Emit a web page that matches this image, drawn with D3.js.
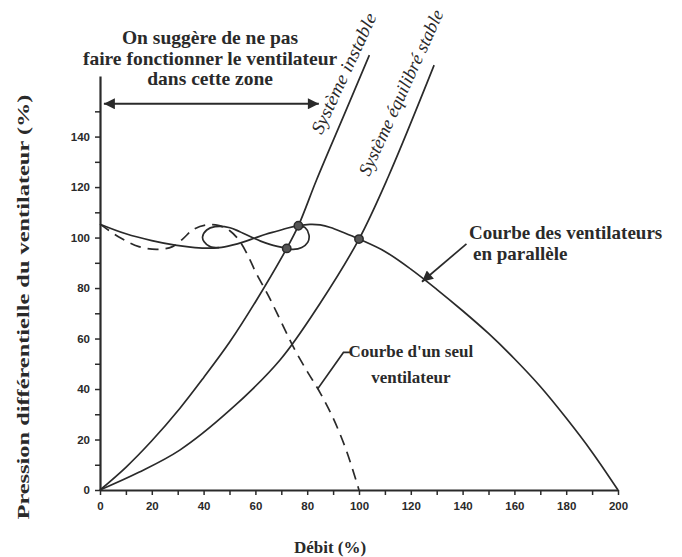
<!DOCTYPE html>
<html>
<head>
<meta charset="utf-8">
<script src="https://cdn.jsdelivr.net/npm/d3@7"></script>
<style>
  body { margin: 0; background: #fff; }
  svg { display: block; }
  .serif { font-family: "Liberation Serif", "Times New Roman", serif; fill: #2a2a2a; }
  .tick text { font-family: "Liberation Sans", Arial, sans-serif; font-weight: bold; font-size: 11.5px; fill: #2a2a2a; }
</style>
</head>
<body>
<div id="chart"></div>
<script>
// axis tick labels
const xTickLabels = [0, 20, 40, 60, 80, 100, 120, 140, 160, 180, 200];
const yTickLabels = [0, 20, 40, 60, 80, 100, 120, 140];

// single fan curve (dashed), debit % / pression %
const singleQ = [0, 8, 15, 22, 28, 32, 36, 41, 46, 50, 54, 58, 60, 65, 70, 75, 80, 85, 90, 95, 100];
const singleP = [105.3, 99.8, 96.4, 95.3, 96.4, 99.5, 103.2, 105, 104.7, 102.8, 98.5, 91, 86.5, 77, 66.5, 56, 47, 38.5, 28.5, 16, 0];

// fans in parallel, main branch
const parallelQ = [0, 10, 20, 29, 35, 40.5, 46, 51, 55.5, 59.5, 64, 68.2, 72.5, 76.6, 81, 85, 89, 94, 100, 110, 120, 130, 140, 150, 160, 170, 180, 190, 200];
const parallelP = [105.3, 101.5, 98.8, 97, 96.2, 95.8, 96, 97, 98.3, 99.7, 101.3, 102.5, 103.8, 104.7, 105.2, 105, 104, 102, 99.4, 94.5, 87.5, 79.5, 71, 62, 52, 41, 28.5, 15, 0];

// fans in parallel, loop branch (figure of eight in the unstable zone)
const loopQ = [76.6, 79.2, 80.7, 80.2, 77.9, 74.6, 72.1, 68.5, 65.6, 62, 59.5, 54, 50.2, 44.4, 41.2, 39.6, 40.2, 42.5, 46];
const loopP = [104.7, 103.9, 101, 98.1, 96.1, 95.3, 95.7, 96.5, 97.3, 98.6, 99.7, 102.3, 103.9, 104.3, 103, 100.3, 98.3, 96.4, 96];

// system curves
const unstableQ = [0, 10, 20, 30.8, 40, 50, 60, 72.1, 76.6, 83.6, 94, 104];
const unstableP = [0, 9, 19.5, 32.3, 44.5, 58.5, 74.5, 95.7, 104.7, 122.8, 148, 172.3];
const stableQ = [0, 15, 30.8, 50, 69.5, 85, 100, 111.3, 129];
const stableP = [0, 7, 15.8, 31.5, 51.5, 74, 99.4, 124.1, 168.3];

// operating points
const pointQ = [76.6, 72.1, 100];
const pointP = [104.7, 95.7, 99.4];

const width = 682, height = 557;

const x = d3.scaleLinear().domain([0, 200]).range([100, 618]);
const y = d3.scaleLinear().domain([0, 164]).range([490, 76]);

const svg = d3.select("#chart").append("svg")
    .attr("width", width)
    .attr("height", height)
    .attr("viewBox", [0, 0, width, height]);

const ink = "#2a2a2a";

// arrow heads
const defs = svg.append("defs");
defs.append("marker")
    .attr("id", "head")
    .attr("viewBox", "0 0 10 10")
    .attr("refX", 10).attr("refY", 5)
    .attr("markerWidth", 19).attr("markerHeight", 11)
    .attr("markerUnits", "userSpaceOnUse")
    .attr("orient", "auto-start-reverse")
  .append("path")
    .attr("d", "M0,0L10,5L0,10Z")
    .attr("fill", ink);

// axes
const xAxis = d3.axisBottom(x)
    .tickValues(d3.range(0, 201, 10))
    .tickSize(5).tickSizeOuter(0).tickPadding(7)
    .tickFormat(d => xTickLabels.includes(d) ? d : "");
const yAxis = d3.axisLeft(y)
    .tickValues(d3.range(0, 151, 10))
    .tickSize(5).tickSizeOuter(0).tickPadding(5)
    .tickFormat(d => yTickLabels.includes(d) ? d : "");

const gx = svg.append("g").attr("transform", `translate(0,${y(0)})`).call(xAxis);
const gy = svg.append("g").attr("transform", `translate(${x(0)},0)`).call(yAxis);
[gx, gy].forEach(g => {
  g.select(".domain").attr("stroke", ink).attr("stroke-width", 2.2);
  g.selectAll(".tick line").attr("stroke", ink).attr("stroke-width", 1.5);
});

const zip = (qs, ps) => qs.map((q, i) => [q, ps[i]]);
const line = d3.line()
    .x(d => x(d[0]))
    .y(d => y(d[1]))
    .curve(d3.curveCatmullRom.alpha(0.5));

const curves = [
  { pts: zip(unstableQ, unstableP), dash: null },
  { pts: zip(stableQ, stableP), dash: null },
  { pts: zip(parallelQ, parallelP), dash: null },
  { pts: zip(loopQ, loopP), dash: null },
  { pts: zip(singleQ, singleP), dash: "11,7" }
];

svg.append("g").selectAll("path")
  .data(curves)
  .join("path")
    .attr("d", d => line(d.pts))
    .attr("fill", "none")
    .attr("stroke", ink)
    .attr("stroke-width", 1.7)
    .attr("stroke-dasharray", d => d.dash);

// operating points
svg.append("g").selectAll("circle")
  .data(zip(pointQ, pointP))
  .join("circle")
    .attr("cx", d => x(d[0]))
    .attr("cy", d => y(d[1]))
    .attr("r", 4.2)
    .attr("fill", "#555")
    .attr("stroke", ink)
    .attr("stroke-width", 1.5);

// zone arrow
svg.append("line")
    .attr("x1", x(1.5)).attr("x2", x(84.5))
    .attr("y1", y(153)).attr("y2", y(153))
    .attr("stroke", ink).attr("stroke-width", 2)
    .attr("marker-start", "url(#head)")
    .attr("marker-end", "url(#head)");

// zone text
const zone = svg.append("text").attr("class", "serif")
    .attr("text-anchor", "middle")
    .attr("font-weight", "bold")
    .attr("font-size", 19.5);
["On suggère de ne pas", "faire fonctionner le ventilateur", "dans cette zone"].forEach((t, i) => {
  zone.append("tspan").attr("x", x(42.5)).attr("y", y(176.5) + i * 20.5).text(t);
});

// system labels, rotated along their lines
function slantLabel(text, q, p, angle, len) {
  svg.append("text").attr("class", "serif")
      .attr("font-style", "italic")
      .attr("font-size", 18.5)
      .attr("textLength", len)
      .attr("lengthAdjust", "spacingAndGlyphs")
      .attr("transform", `translate(${x(q)},${y(p)}) rotate(${angle})`)
      .text(text);
}
slantLabel("Système instable", 85.6, 140.5, -65, 131);
slantLabel("Système équilibré stable", 104, 124, -65.5, 180);

// parallel curve label
const par = svg.append("text").attr("class", "serif")
    .attr("font-weight", "bold")
    .attr("font-size", 19);
par.append("tspan").attr("x", x(142.5)).attr("y", y(99.5)).text("Courbe des ventilateurs");
par.append("tspan").attr("x", x(144)).attr("y", y(91)).text("en parallèle");

svg.append("line")
    .attr("x1", x(141.5)).attr("y1", y(97.5))
    .attr("x2", x(124.3)).attr("y2", y(82.5))
    .attr("stroke", ink).attr("stroke-width", 1.7)
    .attr("marker-end", "url(#head)");

// single fan label
const sgl = svg.append("text").attr("class", "serif")
    .attr("font-weight", "bold")
    .attr("font-size", 17)
    .attr("text-anchor", "middle");
sgl.append("tspan").attr("x", x(120)).attr("y", y(52.5)).text("Courbe d'un seul");
sgl.append("tspan").attr("x", x(120)).attr("y", y(42.5)).text("ventilateur");

svg.append("path")
    .attr("d", d3.line()([[x(84), y(40)], [x(94), y(54.5)], [x(96.5), y(54.5)]]))
    .attr("fill", "none")
    .attr("stroke", ink).attr("stroke-width", 1.6);

// axis titles
svg.append("text").attr("class", "serif")
    .attr("font-weight", "bold")
    .attr("font-size", 17)
    .attr("text-anchor", "middle")
    .attr("x", 330).attr("y", 553)
    .text("Débit (%)");

svg.append("text").attr("class", "serif")
    .attr("font-weight", "bold")
    .attr("font-size", 16.5)
    .attr("text-anchor", "middle")
    .attr("textLength", 425)
    .attr("lengthAdjust", "spacingAndGlyphs")
    .attr("transform", "translate(29,307) rotate(-90)")
    .text("Pression différentielle du ventilateur (%)");
</script>
</body>
</html>
